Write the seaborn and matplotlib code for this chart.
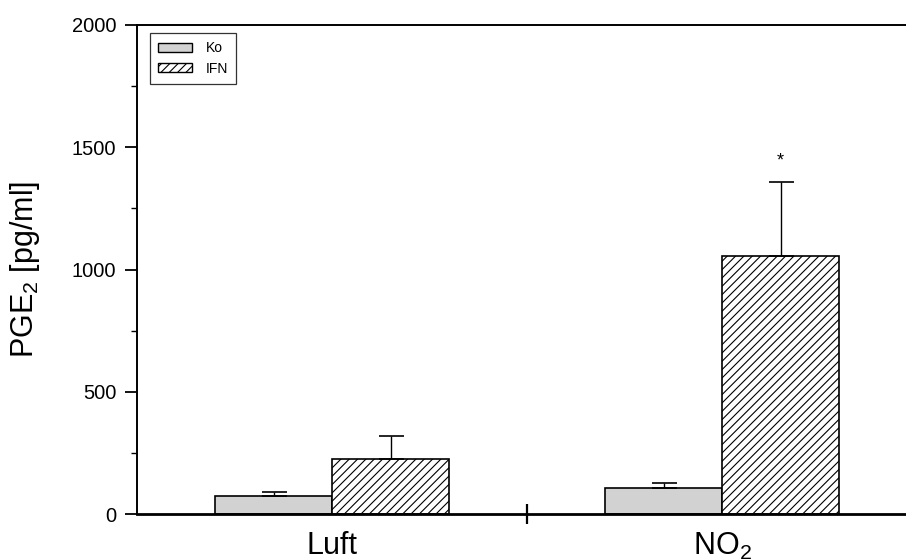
import matplotlib
matplotlib.use("Agg")
import matplotlib.pyplot as plt
from matplotlib.patches import Patch
import seaborn as sns
import pandas as pd
import numpy as np

# PGE2 release (mean + SD) for control and IFN-treated cells under air and NO2
conditions = ["Luft", "NO$_2$"]
groups = ["Ko", "IFN"]
ko_means = [75, 105]
ifn_means = [226, 1056]
ko_sd = [15, 20]
ifn_sd = [93, 300]
significance = ["", "*"]

y_ticks = [0, 500, 1000, 1500, 2000]

sns.set_style("ticks")
plt.rcParams["font.family"] = ["Liberation Sans", "DejaVu Sans"]
plt.rcParams["mathtext.fontset"] = "custom"
plt.rcParams["mathtext.rm"] = "Liberation Sans"
plt.rcParams["mathtext.it"] = "Liberation Sans:italic"
plt.rcParams["hatch.linewidth"] = 0.8
plt.rcParams["text.color"] = "black"
plt.rcParams["axes.labelcolor"] = "black"
plt.rcParams["xtick.color"] = "black"
plt.rcParams["ytick.color"] = "black"

df = pd.DataFrame({
    "condition": conditions * 2,
    "group": [groups[0]] * 2 + [groups[1]] * 2,
    "value": ko_means + ifn_means,
})

fig = plt.figure(figsize=(9.06, 5.6), dpi=100)
ax = fig.add_axes([137 / 906, 1 - 514 / 560, 780 / 906, 489 / 560])

fill = {"Ko": "#d2d2d2", "IFN": "white"}
sns.barplot(data=df, x="condition", y="value", hue="group",
            hue_order=groups, order=conditions, palette=fill,
            width=0.6, errorbar=None, edgecolor="black", linewidth=1.2,
            legend=False, ax=ax)

# Hatch the IFN bars and add upper-only SD whiskers at each bar's centre
n = len(conditions)
bars = ax.patches[: 2 * n]
sds = ko_sd + ifn_sd
for i, bar in enumerate(bars):
    if i >= n:
        bar.set_hatch("////")
    xc = bar.get_x() + bar.get_width() / 2
    h = bar.get_height()
    ax.errorbar(xc, h, yerr=[[0], [sds[i]]], fmt="none", ecolor="black",
                elinewidth=1.0, capsize=9, capthick=1.2, zorder=1)

# Significance marker above the IFN / NO2 bar
for j, mark in enumerate(significance):
    if mark:
        b = bars[n + j]
        ax.text(b.get_x() + b.get_width() / 2,
                b.get_height() + sds[n + j] + 55, mark,
                ha="center", va="bottom", fontsize=13)

ax.set_xlim(-0.5, 1.5)
ax.set_ylim(0, 2000)
ax.set_yticks(y_ticks)
ax.set_yticks(np.arange(250, 2000, 500), minor=True)
ax.set_xticks([0, 1])
ax.set_xticklabels(conditions, fontsize=22)
ax.set_xticks([0.5], minor=True)

ax.tick_params(axis="x", which="major", length=0, pad=12)
ax.tick_params(axis="x", which="minor", direction="inout", length=15, width=1.6)
ax.tick_params(axis="y", which="major", direction="out", length=9, width=1.3,
               labelsize=14.5, pad=6)
ax.tick_params(axis="y", which="minor", direction="out", length=4, width=1.0)

ax.set_xlabel("")
ax.set_ylabel("PGE$_2$ [pg/ml]", fontsize=22, labelpad=21)

for side in ["left", "top", "right"]:
    ax.spines[side].set_linewidth(1.4)
    ax.spines[side].set_color("black")
ax.spines["bottom"].set_linewidth(2.0)
ax.spines["bottom"].set_color("black")

handles = [
    Patch(facecolor=fill["Ko"], edgecolor="black", linewidth=1.0, label="Ko"),
    Patch(facecolor="white", edgecolor="black", linewidth=1.0, hatch="////", label="IFN"),
]
leg = ax.legend(handles=handles, loc="upper left",
                bbox_to_anchor=(13 / 780, 481 / 489), borderaxespad=0,
                fontsize=10, frameon=True, fancybox=False, edgecolor="black",
                handlelength=2.45, handleheight=0.65, handletextpad=0.95,
                labelspacing=0.45, borderpad=0.6)
leg.get_frame().set_linewidth(0.9)

fig.savefig("out.png", dpi=100)
